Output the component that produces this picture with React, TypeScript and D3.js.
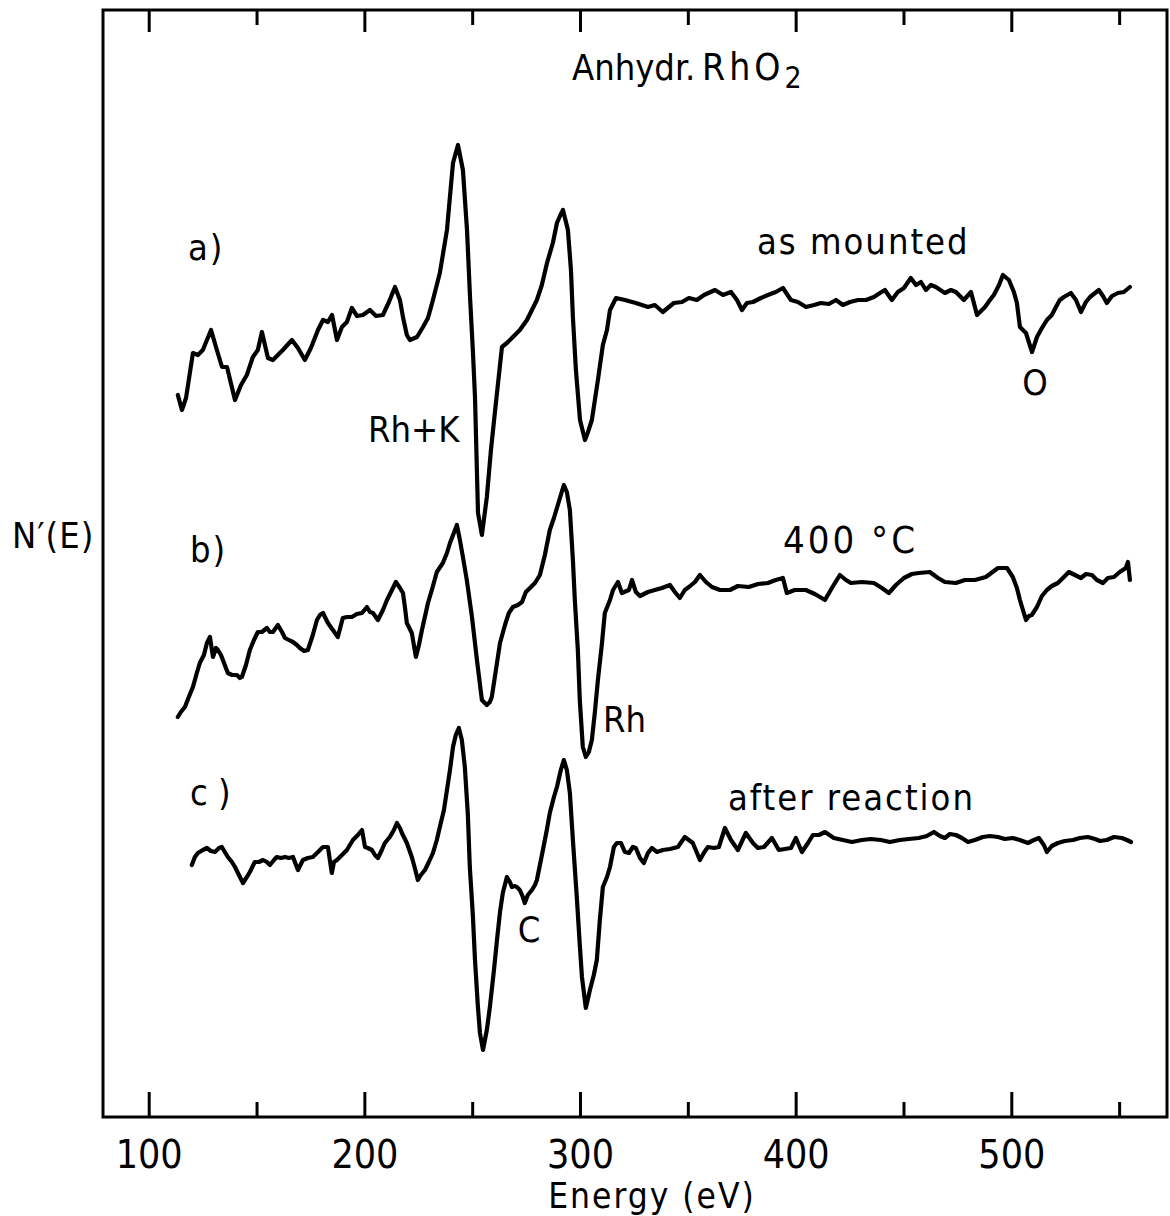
import React, { useEffect, useRef } from 'react';
import * as d3 from 'd3';

// energy axis (eV)
const majorTicks = [100, 200, 300, 400, 500];
const minorTicks = [150, 250, 350, 450, 550];

// N'(E) traces, [energy eV, signal in arbitrary units]
const asMounted: [number, number][] = [
  [113.5,72.2],[115.4,70.7],[117.3,71.9],[120.5,76.4],[122.8,76.2],[125.1,76.7],[128.9,78.7],[131.6,76.7],[134.0,75.0],[136.3,75.0],
  [140.0,71.7],[142.8,73.2],[145.5,74.2],[148.3,76.0],[150.6,76.7],[152.5,78.5],[155.3,75.9],[157.6,75.7],[159.9,76.2],[162.2,76.7],
  [166.4,77.7],[169.2,76.9],[172.4,75.7],[175.2,76.9],[178.5,78.7],[180.8,79.7],[183.1,79.5],[185.0,80.2],[187.3,77.7],[189.6,79.0],
  [191.9,79.5],[194.2,80.9],[196.6,80.1],[199.3,80.2],[202.6,80.7],[205.4,80.1],[208.6,80.2],[211.4,81.5],[214.2,83.0],[216.5,81.7],
  [217.9,80.0],[219.7,78.2],[221.1,77.7],[224.4,78.0],[227.2,79.0],[229.5,79.9],[231.8,81.7],[235.0,84.4],[238.3,88.7],[241.1,95.4],
  [243.4,97.2],[245.7,94.7],[247.6,88.7],[249.0,82.0],[250.3,76.7],[251.3,72.0],[252.7,60.4],[254.5,58.2],[256.8,62.0],[258.7,66.7],
  [260.5,70.4],[263.8,77.0],[266.1,77.4],[268.9,78.0],[272.1,78.7],[275.4,79.7],[277.7,80.7],[280.0,81.7],[282.3,83.2],[284.7,85.4],
  [287.4,87.4],[289.3,89.4],[290.7,90.1],[292.1,90.7],[294.4,88.7],[295.8,84.7],[296.7,80.0],[298.1,74.7],[300.0,69.7],[302.3,67.7],
  [303.7,68.5],[305.5,69.7],[308.3,73.7],[310.6,77.2],[312.5,78.7],[313.9,80.7],[316.7,81.9],[320.8,81.7],[325.9,81.4],[331.5,81.0],
  [334.7,81.2],[338.4,80.5],[343.5,81.4],[347.3,81.5],[350.5,81.9],[354.2,81.7],[357.5,82.2],[362.6,82.7],[366.3,82.2],[370.0,82.5],
  [372.8,81.7],[375.1,80.7],[377.4,81.4],[380.2,81.5],[383.9,81.9],[387.1,82.2],[390.8,82.5],[394.1,82.9],[397.8,81.7],[401.0,81.5],
  [404.8,81.0],[408.5,81.2],[411.7,81.4],[415.4,81.3],[418.7,81.7],[421.9,81.2],[425.2,81.5],[428.9,81.7],[432.6,81.7],[436.3,82.0],
  [439.1,82.4],[441.4,82.7],[444.6,81.7],[447.4,82.5],[450.2,82.9],[453.4,83.9],[455.8,83.2],[458.1,83.5],[460.4,82.7],[462.7,83.2],
  [465.0,83.0],[469.2,82.4],[472.0,82.7],[474.3,82.5],[478.0,81.7],[481.3,82.5],[484.1,80.2],[487.8,81.0],[490.1,81.7],[491.9,82.2],
  [494.3,83.2],[496.1,84.2],[498.9,83.7],[501.2,82.5],[502.6,81.4],[504.0,79.0],[506.8,78.4],[509.6,76.5],[511.9,78.0],[514.2,78.9],
  [516.5,79.7],[518.8,80.2],[520.7,81.0],[522.5,81.7],[524.4,82.0],[527.6,82.4],[530.0,81.7],[532.3,80.5],[534.6,81.5],[536.5,82.0],
  [540.6,82.7],[542.5,82.1],[544.3,81.4],[546.7,82.1],[549.4,82.4],[552.2,82.5],[555.0,83.0]
];

const heated400: [number, number][] = [
  [113.5,40.0],[114.9,40.5],[116.8,41.0],[118.6,42.0],[120.5,43.0],[122.3,44.4],[123.7,45.4],[125.6,46.2],[127.0,47.4],[128.4,48.0],
  [129.8,46.0],[131.2,46.9],[132.1,46.7],[133.5,46.2],[134.4,45.7],[135.8,44.9],[136.7,44.4],[138.6,44.2],[140.9,44.2],[142.3,43.9],
  [143.2,44.0],[145.1,45.2],[146.9,46.7],[148.8,47.7],[150.6,48.5],[152.5,48.5],[154.8,48.9],[156.2,48.5],[157.6,48.5],[159.9,49.2],
  [161.8,48.5],[163.2,47.9],[165.0,47.7],[166.9,47.5],[168.7,47.2],[170.1,46.9],[172.0,46.6],[173.8,46.7],[176.1,48.2],[178.0,49.7],
  [179.4,50.2],[180.8,50.4],[183.1,49.4],[185.4,48.7],[187.7,48.0],[190.0,49.9],[191.9,50.0],[194.2,50.0],[196.5,50.3],[198.9,50.4],
  [201.2,51.0],[202.6,50.5],[204.0,50.4],[206.3,49.7],[208.6,50.7],[210.5,51.7],[212.8,52.7],[214.6,53.5],[216.5,52.9],[217.9,52.4],
  [218.8,51.0],[219.7,49.4],[222.0,48.4],[223.9,46.0],[225.3,47.2],[226.7,48.7],[229.5,51.4],[231.3,52.7],[233.6,54.5],[236.4,55.4],
  [238.3,56.4],[239.7,57.4],[241.5,58.4],[242.9,59.2],[244.3,57.7],[245.7,56.0],[247.5,53.7],[249.9,50.0],[252.2,45.7],[254.5,41.7],
  [256.8,41.2],[258.2,41.5],[259.1,42.0],[261.0,44.7],[262.9,47.4],[265.2,49.2],[267.0,50.4],[268.9,51.0],[271.2,51.2],[273.1,51.5],
  [274.9,52.5],[276.8,52.9],[279.1,53.4],[281.4,54.2],[283.7,56.2],[286.0,58.7],[287.9,59.9],[289.3,60.9],[291.1,62.2],[292.5,63.2],
  [293.9,62.5],[295.3,60.7],[296.7,55.7],[297.6,51.7],[299.0,46.7],[299.9,41.7],[301.3,37.0],[302.7,36.0],[304.1,36.5],[305.5,37.7],
  [306.9,40.5],[308.3,43.7],[310.1,47.2],[311.5,50.4],[313.9,51.7],[315.3,52.7],[317.6,53.5],[319.4,52.4],[322.7,52.7],[324.1,53.7],
  [325.9,52.5],[327.8,52.1],[331.5,52.5],[334.7,52.7],[338.0,52.9],[341.7,53.2],[344.0,52.5],[346.3,51.9],[348.6,52.7],[350.5,53.0],
  [353.3,53.5],[355.6,54.2],[358.4,53.5],[361.2,53.0],[364.9,52.7],[369.5,52.7],[373.2,53.1],[378.3,53.0],[382.5,53.3],[387.1,53.4],
  [390.8,53.7],[394.1,53.9],[395.9,52.4],[399.6,52.7],[404.7,52.7],[408.9,52.3],[413.6,51.7],[416.8,52.9],[420.5,54.2],[423.3,53.7],
  [425.6,53.4],[430.7,53.5],[436.3,53.4],[440.0,52.9],[443.2,52.4],[446.5,53.2],[450.2,53.9],[453.9,54.3],[457.1,54.4],[462.2,54.5],
  [466.0,53.9],[469.2,53.5],[474.3,53.4],[478.5,53.7],[483.1,53.7],[488.2,54.0],[493.8,54.9],[498.0,54.9],[500.7,54.0],[502.6,52.9],
  [504.0,51.7],[506.8,49.7],[508.2,50.1],[509.5,50.2],[511.9,51.0],[514.2,52.1],[516.5,52.7],[518.8,53.1],[521.6,53.4],[524.4,54.0],
  [526.7,54.5],[529.5,54.2],[532.3,53.9],[534.6,54.3],[537.4,54.2],[539.7,53.7],[542.5,53.4],[544.8,53.9],[547.6,54.0],[550.3,54.5],
  [553.1,54.9],[554.1,55.5],[555.0,53.7]
];

const afterReaction: [number, number][] = [
  [120.0,25.2],[121.4,26.0],[122.8,26.4],[125.1,26.7],[127.0,26.9],[128.8,26.6],[130.7,26.5],[132.6,26.9],[133.9,27.0],[135.3,26.5],
  [136.7,26.0],[138.6,25.5],[140.0,25.0],[142.3,24.0],[143.7,23.4],[145.5,24.0],[146.9,24.5],[149.2,25.5],[151.1,25.5],[153.0,25.7],
  [154.8,25.5],[156.2,25.2],[158.1,25.7],[159.4,26.0],[161.3,25.9],[163.2,26.0],[165.0,25.9],[166.9,26.0],[169.2,24.7],[171.5,25.7],
  [173.8,25.9],[176.1,26.0],[178.5,26.5],[180.8,27.0],[183.1,27.0],[184.9,24.4],[185.9,25.5],[187.3,25.7],[189.6,26.2],[191.9,26.7],
  [194.7,27.7],[197.0,28.2],[198.9,28.7],[200.3,27.0],[201.6,26.9],[203.5,26.7],[204.9,26.2],[206.3,25.9],[208.1,26.7],[209.5,27.4],
  [211.8,28.0],[213.7,28.7],[215.1,29.4],[216.5,28.9],[217.4,28.4],[219.7,27.4],[222.0,26.0],[223.4,24.9],[224.8,23.7],[226.2,24.2],
  [228.1,24.7],[229.9,25.5],[231.8,26.4],[233.6,27.7],[235.0,29.0],[236.9,30.7],[238.3,32.7],[239.7,34.7],[241.1,37.0],[242.4,38.2],
  [243.8,38.9],[245.2,37.7],[246.6,35.0],[248.0,30.2],[248.9,25.0],[250.3,20.2],[251.3,15.7],[252.6,11.2],[253.6,8.4],[255.0,6.7],
  [256.8,8.7],[258.2,11.0],[260.1,14.7],[261.5,17.7],[262.9,20.5],[264.2,22.4],[266.1,24.0],[267.5,23.5],[268.4,23.0],[269.8,23.1],
  [270.7,23.0],[272.1,22.7],[273.5,22.0],[274.4,21.4],[275.8,22.2],[277.7,22.7],[279.1,23.2],[280.0,23.7],[281.4,25.2],[282.8,26.7],
  [284.6,28.7],[286.0,30.4],[287.9,32.0],[289.3,33.0],[291.1,34.7],[292.5,35.7],[293.9,34.7],[295.3,32.4],[296.7,27.7],[298.6,21.7],
  [299.9,17.2],[300.9,14.0],[302.7,10.9],[304.6,12.7],[306.4,14.2],[307.8,15.7],[309.2,19.7],[310.6,23.0],[312.5,24.0],[313.9,25.0],
  [315.7,27.0],[317.1,27.4],[319.0,27.4],[320.8,26.5],[322.7,26.4],[324.5,27.0],[325.9,26.9],[327.8,25.9],[329.6,25.4],[331.5,26.4],
  [333.3,26.9],[335.7,26.5],[338.4,26.7],[341.7,26.8],[345.4,27.0],[348.6,28.0],[352.3,27.4],[355.6,25.7],[357.4,26.4],[359.3,27.0],
  [362.1,26.9],[364.4,27.0],[367.2,28.9],[370.0,27.7],[373.2,26.7],[376.9,28.4],[380.2,27.4],[382.5,26.9],[385.3,27.0],[389.0,27.9],
  [392.2,26.7],[395.0,26.8],[397.8,26.9],[400.1,27.9],[402.9,26.5],[405.7,27.4],[408.0,28.2],[410.8,28.2],[413.6,28.5],[417.7,27.9],
  [421.9,27.7],[426.1,27.5],[430.7,27.7],[434.9,27.8],[439.5,27.7],[443.7,27.5],[448.3,27.7],[452.5,27.8],[457.1,27.9],[460.8,28.1],
  [464.1,28.5],[466.9,28.1],[469.2,27.9],[471.5,28.3],[474.3,28.2],[477.1,27.9],[479.9,27.5],[483.1,27.7],[486.8,28.0],[490.1,28.1],
  [493.8,28.0],[497.0,27.8],[500.7,27.9],[504.0,27.7],[507.7,27.4],[510.5,27.7],[512.8,27.9],[515.1,27.2],[516.5,26.5],[518.8,27.1],
  [521.6,27.4],[524.8,27.6],[528.6,27.7],[531.8,27.9],[535.5,28.0],[538.8,27.8],[541.1,27.6],[544.3,27.7],[547.6,28.0],[551.3,27.9],
  [553.6,27.7],[555.5,27.5]
];

const font = "'DejaVu Sans Condensed', 'DejaVu Sans', sans-serif";

const App = () => {
  const svgRef = useRef<SVGSVGElement>(null);

  useEffect(() => {
    const svg = d3.select(svgRef.current);
    svg.selectAll('*').remove();

    const width = 1170;
    const height = 1216;
    const margin = { top: 10, right: 3, bottom: 99, left: 103 };

    const xScale = d3.scaleLinear()
      .domain([78.8, 572.2])
      .range([margin.left, width - margin.right]);

    const yScale = d3.scaleLinear()
      .domain([0, 110.7])
      .range([height - margin.bottom, margin.top]);

    svg.append('rect')
      .attr('width', width)
      .attr('height', height)
      .attr('fill', '#fff');

    // frame
    svg.append('rect')
      .attr('x', margin.left)
      .attr('y', margin.top)
      .attr('width', width - margin.right - margin.left)
      .attr('height', height - margin.bottom - margin.top)
      .attr('fill', 'none')
      .attr('stroke', '#000')
      .attr('stroke-width', 3);

    const bottom = height - margin.bottom;

    // bottom ticks, pointing inward
    const gMajor = svg.append('g')
      .attr('transform', `translate(0,${bottom})`)
      .call(d3.axisBottom(xScale).tickValues(majorTicks).tickSize(-25).tickPadding(23).tickFormat(d3.format('d')));
    const gMinor = svg.append('g')
      .attr('transform', `translate(0,${bottom})`)
      .call(d3.axisBottom(xScale).tickValues(minorTicks).tickSize(-15).tickFormat(() => ''));

    // top ticks
    const gTopMajor = svg.append('g')
      .attr('transform', `translate(0,${margin.top})`)
      .call(d3.axisTop(xScale).tickValues(majorTicks).tickSize(-22).tickFormat(() => ''));
    const gTopMinor = svg.append('g')
      .attr('transform', `translate(0,${margin.top})`)
      .call(d3.axisTop(xScale).tickValues(minorTicks).tickSize(-15).tickFormat(() => ''));

    [gMajor, gMinor, gTopMajor, gTopMinor].forEach(g => {
      g.select('.domain').remove();
      g.selectAll('line').attr('stroke', '#000').attr('stroke-width', 3);
    });

    gMajor.selectAll('text')
      .attr('fill', '#000')
      .style('font-family', font)
      .style('font-size', '39px');

    svg.append('text')
      .attr('x', 652)
      .attr('y', 1208)
      .attr('text-anchor', 'middle')
      .style('font-family', font)
      .style('font-size', '35px')
      .style('letter-spacing', '2px')
      .text('Energy (eV)');

    // traces
    const line = d3.line<[number, number]>()
      .x(d => xScale(d[0]))
      .y(d => yScale(d[1]));

    svg.selectAll('.trace')
      .data([asMounted, heated400, afterReaction])
      .enter()
      .append('path')
      .classed('trace', true)
      .attr('d', d => line(d))
      .attr('fill', 'none')
      .attr('stroke', '#000')
      .attr('stroke-width', 4.2)
      .attr('stroke-linejoin', 'round')
      .attr('stroke-linecap', 'round');

    // labels
    const label = (x: number, y: number, txt: string, size = 36, anchor = 'start', spacing = 0) =>
      svg.append('text')
        .attr('x', x)
        .attr('y', y)
        .attr('text-anchor', anchor)
        .style('font-family', font)
        .style('font-size', `${size}px`)
        .style('letter-spacing', `${spacing}px`)
        .text(txt);

    // title
    label(572, 80, 'Anhydr.', 36);
    const title = svg.append('text')
      .attr('x', 702)
      .attr('y', 80)
      .style('font-family', font)
      .style('font-size', '37px')
      .style('letter-spacing', '4px');
    title.append('tspan').text('RhO');
    title.append('tspan').attr('dy', 8).style('font-size', '30px').style('letter-spacing', '0px').text('2');

    label(12, 548, 'N\u2032(E)', 36, 'start', 1);
    label(188, 260, 'a)', 36, 'start', 2);
    label(757, 254, 'as mounted', 36, 'start', 2);
    label(1035, 395, 'O', 36, 'middle');
    label(368, 442, 'Rh+K', 36);
    label(190, 562, 'b)', 36, 'start', 2);
    label(783, 553, '400 \u00b0C', 38, 'start', 3);
    label(603, 732, 'Rh', 36);
    label(190, 805, 'c )', 36);
    label(728, 810, 'after reaction', 36, 'start', 2);
    label(529, 942, 'C', 36, 'middle');
  }, []);

  return (
    <svg
      ref={svgRef}
      width={1170}
      height={1216}
      style={{ position: 'absolute', left: 0, top: 0 }}
    />
  );
};

export default App;
